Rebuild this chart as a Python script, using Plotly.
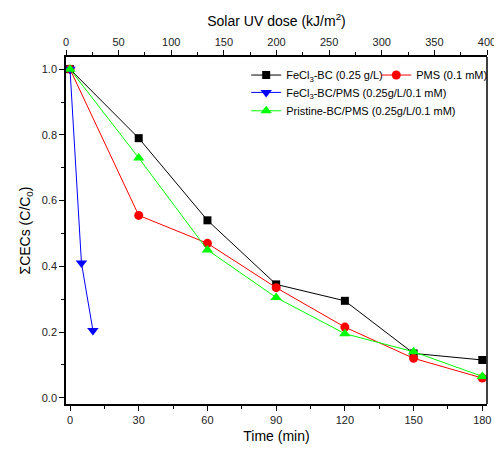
import plotly.graph_objects as go

time_min = [0, 30, 60, 90, 120, 150, 180]
fecl3_bc = [1.0, 0.79, 0.54, 0.345, 0.295, 0.135, 0.115]
pms = [1.0, 0.555, 0.47, 0.335, 0.215, 0.12, 0.06]
pristine_bc_pms = [1.0, 0.73, 0.45, 0.305, 0.195, 0.14, 0.065]
time_fecl3_pms = [0, 5, 10]
fecl3_bc_pms = [1.0, 0.41, 0.205]

FONT = "Liberation Sans, Arial, sans-serif"

fig = go.Figure()
fig.add_trace(go.Scatter(x=time_min, y=fecl3_bc, mode="lines+markers",
                         name="FeCl<sub>3</sub>-BC (0.25 g/L)",
                         line=dict(color="black", width=1),
                         marker=dict(symbol="square", size=8, color="black"),
                         legend="legend"))
fig.add_trace(go.Scatter(x=time_min, y=pms, mode="lines+markers",
                         name="PMS (0.1 mM)",
                         line=dict(color="#ff0000", width=1),
                         marker=dict(symbol="circle", size=9, color="#ff0000"),
                         legend="legend2"))
fig.add_trace(go.Scatter(x=time_fecl3_pms, y=fecl3_bc_pms, mode="lines+markers",
                         name="FeCl<sub>3</sub>-BC/PMS (0.25g/L/0.1 mM)",
                         line=dict(color="#0000ff", width=1),
                         marker=dict(symbol="triangle-down", size=10, color="#0000ff"),
                         legend="legend3"))
fig.add_trace(go.Scatter(x=time_min, y=pristine_bc_pms, mode="lines+markers",
                         name="Pristine-BC/PMS (0.25g/L/0.1 mM)",
                         line=dict(color="#00ff00", width=1),
                         marker=dict(symbol="triangle-up", size=10, color="#00ff00"),
                         legend="legend4"))
# invisible trace on top axis
fig.add_trace(go.Scatter(x=[0, 400], y=[0, 0], xaxis="x2", mode="markers",
                         marker=dict(opacity=0), showlegend=False, hoverinfo="skip"))

axis_common = dict(showline=True, linecolor="black", linewidth=1.5, ticks="outside",
                   ticklen=5, tickwidth=1.2, tickcolor="black", showgrid=False, zeroline=False,
                   tickfont=dict(family=FONT, size=11, color="#222"))

leg_common = dict(xanchor="left", yanchor="middle", orientation="h",
                  bgcolor="rgba(0,0,0,0)", font=dict(family=FONT, size=11), itemwidth=30)

fig.update_layout(
    width=494, height=452,
    margin=dict(l=66, r=7, t=57, b=48, autoexpand=False),
    plot_bgcolor="white", paper_bgcolor="white",
    font=dict(family=FONT, size=11, color="black"),
    xaxis=dict(range=[-1.75, 182.05], tickvals=[0, 30, 60, 90, 120, 150, 180],
               minor=dict(tickvals=[15, 45, 75, 105, 135, 165], ticks="outside", ticklen=3,
                          tickcolor="black", tickwidth=1.2),
               title=dict(text="Time (min)", font=dict(family=FONT, size=14), standoff=6),
               ticklabeloverflow="allow",
               **axis_common),
    xaxis2=dict(range=[0, 400], overlaying="x", side="top", anchor="y",
                tickvals=[0, 50, 100, 150, 200, 250, 300, 350, 400],
                minor=dict(tickvals=[25, 75, 125, 175, 225, 275, 325, 375], ticks="outside",
                           ticklen=3, tickcolor="black", tickwidth=1.2),
                title=dict(text="Solar UV dose (kJ/m<sup>2</sup>)", font=dict(family=FONT, size=14),
                           standoff=6),
                ticklabeloverflow="allow",
                **axis_common),
    yaxis=dict(range=[-0.019, 1.037], tickvals=[0, 0.2, 0.4, 0.6, 0.8, 1.0],
               ticktext=["0.0", "0.2", "0.4", "0.6", "0.8", "1.0"],
               minor=dict(tickvals=[0.1, 0.3, 0.5, 0.7, 0.9], ticks="outside", ticklen=3,
                          tickcolor="black", tickwidth=1.2),
               title=dict(text="ΣCECs (C/C<sub>0</sub>)", font=dict(family=FONT, size=14), standoff=8),
               **axis_common),
    legend=dict(x=0.428, y=0.948, **leg_common),
    legend2=dict(x=0.737, y=0.948, **leg_common),
    legend3=dict(x=0.428, y=0.898, **leg_common),
    legend4=dict(x=0.428, y=0.845, **leg_common),
    shapes=[dict(type="line", xref="paper", yref="paper", x0=1, x1=1, y0=0, y1=1,
                 line=dict(color="black", width=1.5), layer="above")],
)

fig.write_html("out.html", config={"displayModeBar": False},
               post_script="document.body.style.margin='0';document.body.style.overflow='hidden';")
